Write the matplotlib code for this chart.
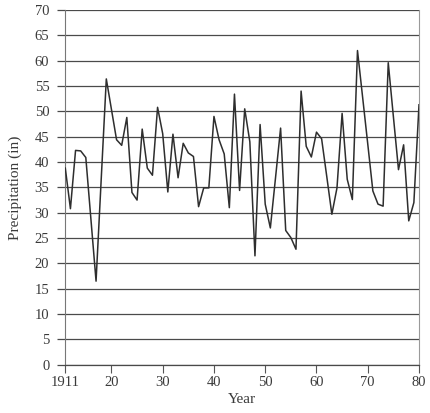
import matplotlib
matplotlib.use("Agg")
import matplotlib.pyplot as plt
import numpy as np

years = list(range(1911, 1981))
precip = [
    38.8, 30.8, 42.3, 42.2, 40.9, 28.7, 16.5, 36.5, 56.4, 50.4,   # 1911-1920
    44.4, 43.3, 48.8, 34.0, 32.5, 46.5, 38.8, 37.4, 50.8, 45.6,   # 1921-1930
    34.1, 45.5, 36.9, 43.7, 41.8, 41.1, 31.2, 34.9, 34.9, 49.0,   # 1931-1940
    44.4, 41.6, 31.0, 53.4, 34.4, 50.5, 44.0, 21.5, 47.4, 31.7,   # 1941-1950
    27.0, 36.8, 46.7, 26.5, 25.1, 22.8, 54.0, 43.1, 41.0, 45.9,   # 1951-1960
    44.6, 37.2, 29.7, 34.9, 49.6, 36.6, 32.6, 62.0, 52.8, 43.6,   # 1961-1970
    34.3, 31.7, 31.3, 59.6, 49.0, 38.5, 43.4, 28.4, 32.0, 51.3,   # 1971-1980
]
xtick_vals = [1911, 1920, 1930, 1940, 1950, 1960, 1970, 1980]
xtick_labels = ["1911", "20", "30", "40", "50", "60", "70", "80"]
ytick_vals = list(range(0, 75, 5))

plt.rcParams['font.family'] = ['Liberation Serif', 'DejaVu Serif']

fig = plt.figure(figsize=(4.30, 4.13), dpi=100)
ax = fig.add_axes([65.3 / 430, 1 - 364.8 / 413, (419 - 65.3) / 430, (364.8 - 10) / 413])

for v in ytick_vals:
    ax.axhline(v, color='#4a4a4a', lw=0.9, zorder=1)

ax.plot(years, precip, color='#2e2e2e', lw=1.1, zorder=3)

ax.set_xlim(1911, 1980)
ax.set_ylim(0, 70)
ax.set_xticks(xtick_vals)
ax.set_xticklabels(xtick_labels)
ax.set_yticks(ytick_vals)

ax.tick_params(axis='y', length=5.5, width=0.9, color='#4a4a4a', pad=6,
               labelsize=10.5, labelcolor='#3a3a3a')
ax.tick_params(axis='x', length=6, width=0.8, color='#555555', pad=2,
               labelsize=10.5, labelcolor='#3a3a3a')

ax.spines['top'].set_visible(False)
ax.spines['left'].set_color('#777777')
ax.spines['left'].set_linewidth(0.8)
ax.spines['right'].set_color('#9a9a9a')
ax.spines['right'].set_linewidth(0.8)
ax.spines['bottom'].set_color('#4a4a4a')
ax.spines['bottom'].set_linewidth(0.9)

ax.set_xlabel("Year", fontsize=11, color='#3a3a3a', labelpad=3)
ax.set_ylabel("Precipitation (in)", fontsize=11, color='#3a3a3a', labelpad=9)

fig.savefig("out.png", dpi=100)
